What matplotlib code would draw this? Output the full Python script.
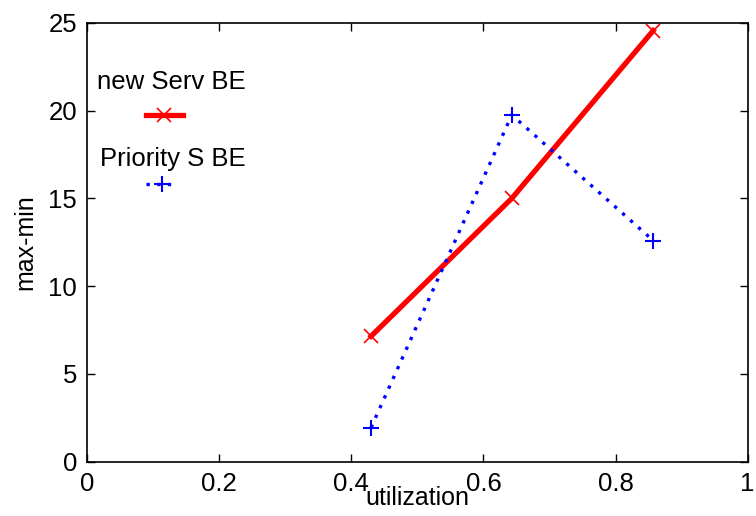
import numpy as np
import matplotlib
matplotlib.use("Agg")
import matplotlib.pyplot as plt

plt.rcParams['font.family'] = ['Liberation Sans', 'DejaVu Sans']

# utilization vs. max-min spread
utilization = [0.43, 0.643, 0.857]
new_serv_be = [7.15, 15.0, 24.55]
priority_s_be = [1.95, 19.75, 12.6]

fig = plt.figure(figsize=(7.56, 5.16), dpi=100)
ax = fig.add_axes([0.115, 0.105, 0.874, 0.851])

ax.plot(utilization, new_serv_be, color='red', lw=3.8, marker='x',
        markersize=10, markeredgewidth=1.2)
ax.plot(utilization, priority_s_be, color='blue', lw=2.4, ls=(0, (1.0, 2.2)),
        marker='+', markersize=12, markeredgewidth=1.5)

ax.set_xlim(0, 1)
ax.set_ylim(0, 25)
ax.set_xticks([0, 0.2, 0.4, 0.6, 0.8, 1])
ax.set_xticklabels(['0', '0.2', '0.4', '0.6', '0.8', '1'])
ax.set_yticks([0, 5, 10, 15, 20, 25])
ax.tick_params(direction='in', top=True, right=True, labelsize=18.5, length=6,
               width=1.0, pad=7)
for s in ax.spines.values():
    s.set_linewidth(1.2)

ax.set_xlabel('utilization', fontsize=18, labelpad=-7)
ax.set_ylabel('max-min', fontsize=18, labelpad=8)

# legend drawn in the old style: label above a short line sample
tr = ax.transAxes
ax.text(0.127, 0.865, 'new Serv BE', transform=tr, fontsize=18.5,
        ha='center', va='center')
ax.plot([0.09, 0.145], [0.79, 0.79], transform=tr, color='red', lw=3.8)
ax.plot([0.117], [0.79], transform=tr, color='red', marker='x',
        markersize=10, markeredgewidth=1.2)
ax.text(0.13, 0.69, 'Priority S BE', transform=tr, fontsize=18.5,
        ha='center', va='center')
ax.plot([0.09, 0.136], [0.633, 0.633], transform=tr, color='blue', lw=2.4,
        ls=(0, (1.0, 2.2)))
ax.plot([0.114], [0.633], transform=tr, color='blue', marker='+',
        markersize=12, markeredgewidth=1.5)

fig.savefig('out.png', dpi=100)
